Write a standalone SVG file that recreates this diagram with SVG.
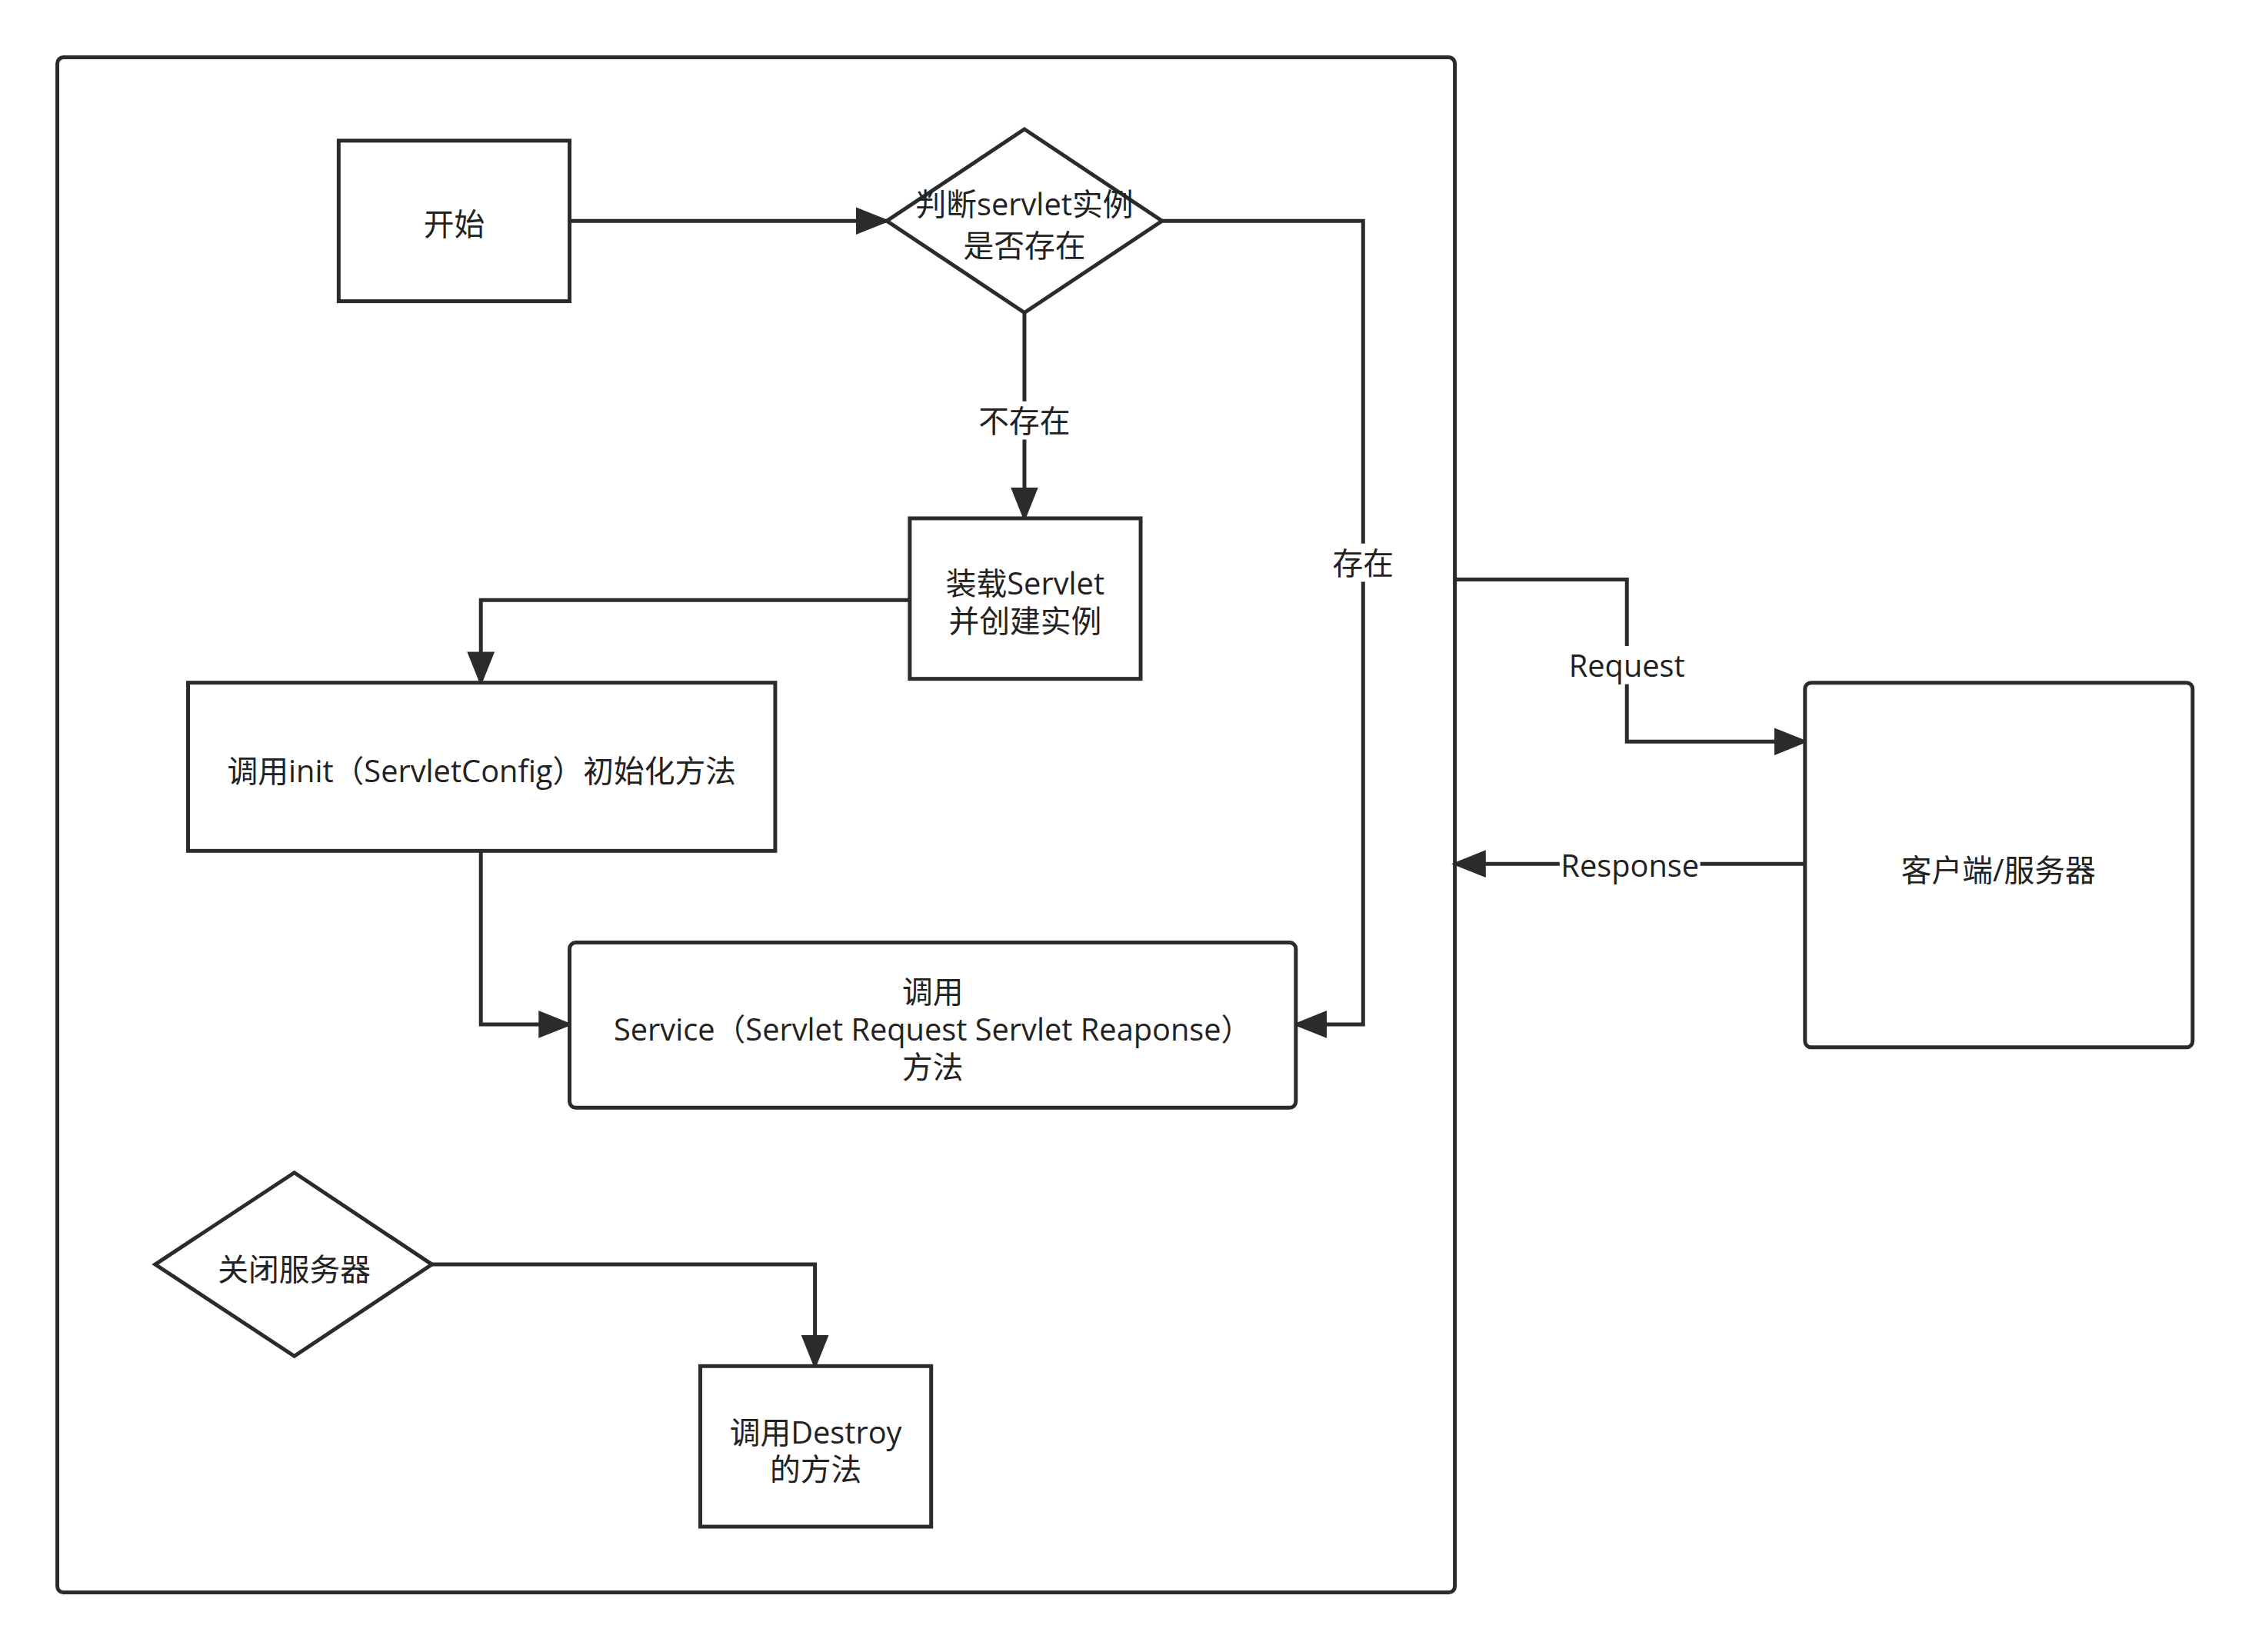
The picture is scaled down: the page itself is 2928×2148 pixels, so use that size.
<svg xmlns="http://www.w3.org/2000/svg" width="2928" height="2148" viewBox="0 0 2928 2148">
<style>
.s{fill:#fff;stroke:#2b2b2b;stroke-width:5}
.c{fill:none;stroke:#2b2b2b;stroke-width:5}
text{font-family:"Open Sans","Noto Sans CJK SC",sans-serif;font-size:40px;fill:#222;text-anchor:middle;dominant-baseline:central}
.lb{fill:#fff;stroke:none}
</style>
<defs><marker id="ar" viewBox="0 0 10 10" refX="9" refY="5" markerWidth="9" markerHeight="9" orient="auto"><path d="M0,1 L10,5 L0,9 Z" fill="#2b2b2b"/></marker></defs>
<rect x="0" y="0" width="2928" height="2148" fill="#fff"/>
<g transform="scale(0.994)">
<g id="frame"><rect class="s" x="75" y="75" width="1828" height="2008" rx="8"/></g>
<g id="connectors">
<path class="c" marker-end="url(#ar)" d="M745,289 H1160"/>
<path class="c" marker-end="url(#ar)" d="M1340,409 V678"/>
<path class="c" marker-end="url(#ar)" d="M1520,289 H1783 V1340 H1695"/>
<path class="c" marker-end="url(#ar)" d="M1190,785 H629 V893"/>
<path class="c" marker-end="url(#ar)" d="M629,1113 V1340 H745"/>
<path class="c" marker-end="url(#ar)" d="M565,1654 H1066 V1787"/>
<path class="c" marker-end="url(#ar)" d="M1903,758 H2128 V970 H2361"/>
<path class="c" marker-end="url(#ar)" d="M2361,1130 H1903"/>
<rect class="lb" x="1272" y="525" width="136" height="50"/><text x="1340" y="550">不存在</text>
<rect class="lb" x="1738" y="711" width="90" height="50"/><text x="1783" y="736">存在</text>
<rect class="lb" x="2046" y="845" width="164" height="50"/><text x="2128" y="870">Request</text>
<rect class="lb" x="2040" y="1110" width="184" height="44"/><text x="2132" y="1132">Response</text>
</g>
<g id="start"><rect class="s" x="443" y="184" width="302" height="210"/><text x="594" y="293">开始</text></g>
<g id="check"><polygon class="s" points="1340,169 1520,289 1340,409 1160,289"/><text x="1340" y="267">判断servlet实例</text><text x="1340" y="321">是否存在</text></g>
<g id="load"><rect class="s" x="1190" y="678" width="302" height="210"/><text x="1341" y="763">装载Servlet</text><text x="1341" y="812">并创建实例</text></g>
<g id="init"><rect class="s" x="246" y="893" width="768" height="220"/><text x="630" y="1008">调用init（ServletConfig）初始化方法</text></g>
<g id="service"><rect class="s" x="745" y="1233" width="950" height="216" rx="8"/><text x="1220" y="1297">调用</text><text x="1220" y="1346">Service（Servlet Request Servlet Reaponse）</text><text x="1220" y="1395">方法</text></g>
<g id="close"><polygon class="s" points="385,1534 565,1654 385,1774 203,1654"/><text x="385" y="1660">关闭服务器</text></g>
<g id="destroy"><rect class="s" x="916" y="1787" width="302" height="210"/><text x="1067" y="1873">调用Destroy</text><text x="1067" y="1922">的方法</text></g>
<g id="client"><rect class="s" x="2361" y="893" width="507" height="477" rx="8"/><text x="2614" y="1138">客户端/服务器</text></g>
</g>
</svg>
